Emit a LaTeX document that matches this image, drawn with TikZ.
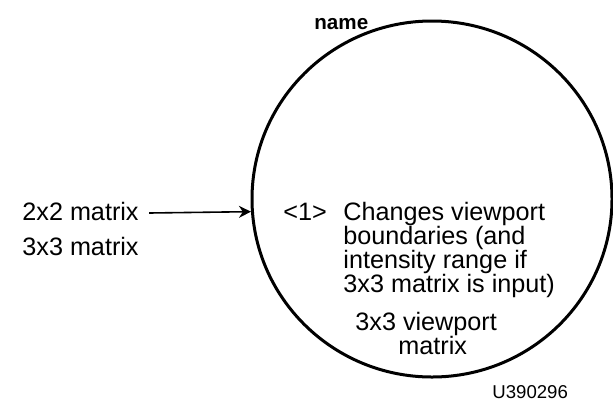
\documentclass[tikz,border=0pt]{standalone}
\usepackage{fontspec}
\setmainfont{Liberation Sans}
\usetikzlibrary{shapes.geometric,arrows.meta}
\begin{document}
\begin{tikzpicture}[x=0.5pt,y=-0.5pt,
  txt/.style={anchor=base west,inner sep=0pt,align=left,font=\fontsize{12.6}{12}\selectfont},
  bubble/.style={draw,ellipse,line width=1.5pt,inner sep=0pt,minimum width=180pt,minimum height=178pt}]
\useasboundingbox (0,0) rectangle (613,402);
\node[bubble] (c) at (432,199) {};
\node[txt,font=\bfseries\fontsize{10.3}{12}\selectfont] (name) at (314,29) {name};
\node[txt] (m2) at (22,220) {2x2 matrix};
\node[txt] (m3) at (22,255) {3x3 matrix};
\node[txt] (one) at (283,220) {<1>};
\node[txt] (desc) at (343,292) {Changes viewport\\boundaries (and\\intensity range if\\3x3 matrix is input)};
\node[txt] (out) at (355,354) {3x3 viewport\\\hspace*{21.5pt}matrix};
\node[txt,font=\fontsize{9.3}{10}\selectfont] (id) at (492,398) {U390296};
\draw[-{Stealth[length=6pt,width=6pt]},line width=0.8pt] ([xshift=5pt]m2.east |- 0,213) -- (c.184.5);
\end{tikzpicture}
\end{document}
